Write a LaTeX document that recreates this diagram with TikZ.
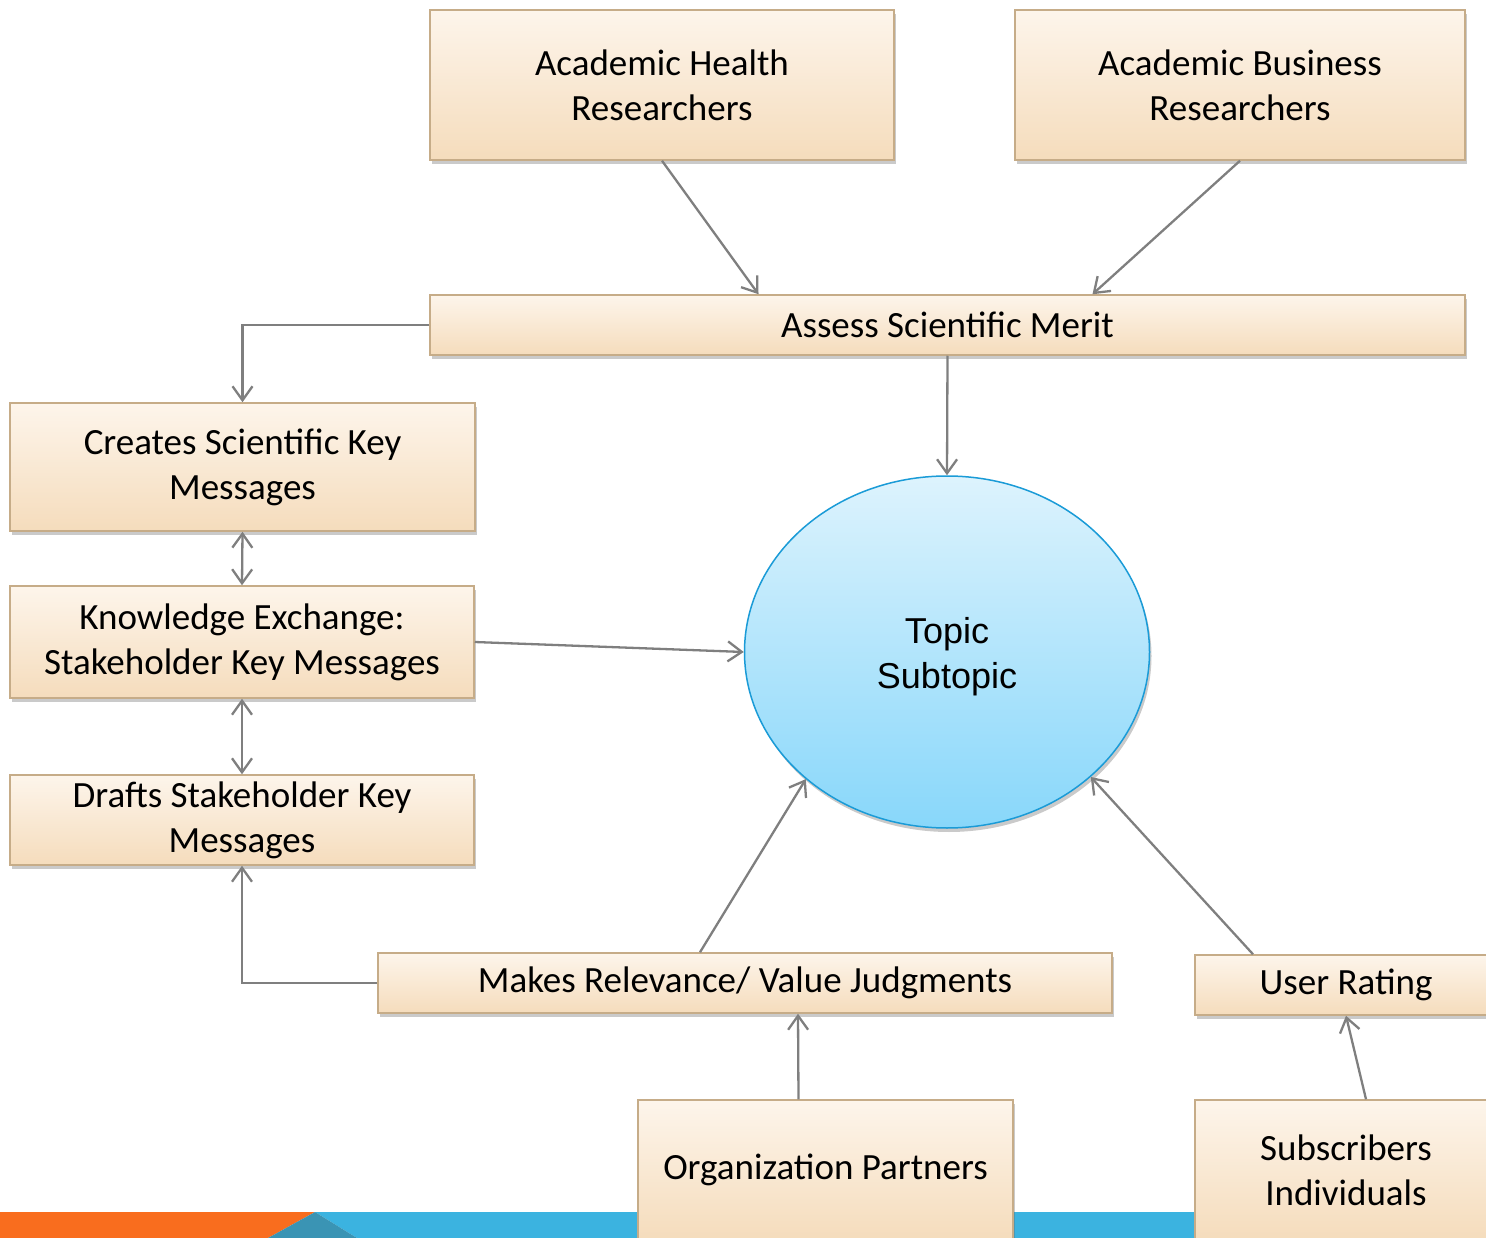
\documentclass[tikz,border=0pt]{standalone}
\usepackage{fontspec}
\setmainfont{Carlito}
\newfontfamily\arialfont{Liberation Sans}
\usetikzlibrary{arrows.meta,shadows,shapes.geometric}
\definecolor{boxtop}{HTML}{FDF5EB}
\definecolor{boxbot}{HTML}{F5DCBC}
\definecolor{boxline}{HTML}{C6AC88}
\definecolor{topictop}{HTML}{DDF3FD}
\definecolor{topicbot}{HTML}{88D7FA}
\definecolor{topicline}{HTML}{1A9BD7}
\definecolor{linkgray}{HTML}{7F7F7F}
\definecolor{barorange}{HTML}{F96D1E}
\definecolor{barblue}{HTML}{3BB3E0}
\definecolor{barteal}{HTML}{3A94B4}
\begin{document}
\begin{tikzpicture}[x=1pt, y=-1pt,
	box/.style={draw=boxline, line width=1.5pt, top color=boxtop, bottom color=boxbot, align=center, inner sep=0pt,
		font=\fontsize{37}{45}\selectfont, drop shadow={shadow xshift=2pt, shadow yshift=-4pt, opacity=0.35, fill=black!60}},
	topic/.style={ellipse, draw=topicline, line width=1.5pt, top color=topictop, bottom color=topicbot, align=center,
		inner sep=0pt, font=\arialfont\fontsize{36}{45}\selectfont, drop shadow={shadow xshift=2pt, shadow yshift=-4pt, opacity=0.35, fill=black!60}},
	link/.style={draw=linkgray, line width=2.3pt, -{Straight Barb[length=14pt, width=20pt, line width=2.3pt]}},
	duo/.style={draw=linkgray, line width=2.3pt, {Straight Barb[length=14pt, width=20pt, line width=2.3pt]}-{Straight Barb[length=14pt, width=20pt, line width=2.3pt]}}]
	\useasboundingbox (0,0) rectangle (1486,1238);

	% bottom bar
	\fill[barorange] (0,1212) -- (315,1212) -- (268,1238) -- (0,1238) -- cycle;
	\fill[barblue] (315,1212) -- (1486,1212) -- (1486,1238) -- (357,1238) -- cycle;
	\fill[barteal] (268,1238) -- (315,1212) -- (357,1238) -- cycle;

	\node[box, minimum width=464pt, minimum height=150pt] at (662,85) (health) {Academic Health\\Researchers};
	\node[box, minimum width=450pt, minimum height=150pt] at (1240,85) (business) {Academic Business\\Researchers};
	\node[box, minimum width=1035pt, minimum height=60pt] at (947.5,325) (merit) {Assess Scientific Merit};

	\node[box, minimum width=465pt, minimum height=128pt] at (242.5,467) (creates) {Creates Scientific Key\\Messages};
	\node[box, minimum width=464pt, minimum height=112pt] at (242,642) (exchange) {Knowledge Exchange:\\Stakeholder Key Messages};
	\node[box, minimum width=464pt, minimum height=90pt] at (242,820) (drafts) {Drafts Stakeholder Key\\Messages};

	\node[topic, minimum width=405pt, minimum height=352pt] at (947,652) (topic) {\rule{0pt}{36pt}Topic\\Subtopic};

	\node[box, minimum width=734pt, minimum height=60pt] at (745,983) (judgments) {Makes Relevance/ Value Judgments};
	\node[box, minimum width=302pt, minimum height=60pt] at (1346,985) (rating) {User Rating};
	\node[box, minimum width=375pt, minimum height=140pt] at (825.5,1170) (partners) {Organization Partners};
	\node[box, minimum width=302pt, minimum height=140pt] at (1346,1170) (subscribers) {Subscribers\\Individuals};

	\draw[link] (health.south) -- ([xshift=-189pt]merit.north);
	\draw[link] (business.south) -- ([xshift=145pt]merit.north);
	\draw[link] (merit.west) -| (creates.north);
	\draw[link] (merit.south) -- (topic.north);
	\draw[duo] (creates.south) -- (exchange.north);
	\draw[duo] (exchange.south) -- (drafts.north);
	\draw[link] (exchange.east) -- (topic.west);
	\draw[link] (judgments.west) -| (drafts.south);
	\draw[link] ([xshift=-45pt]judgments.north) -- (topic.222);
	\draw[link] ([xshift=-93pt]rating.north) -- (topic.319);
	\draw[link] ([xshift=-27pt]partners.north) -- ([xshift=53pt]judgments.south);
	\draw[link] ([xshift=20pt]subscribers.north) -- (rating.south);
\end{tikzpicture}
\end{document}
